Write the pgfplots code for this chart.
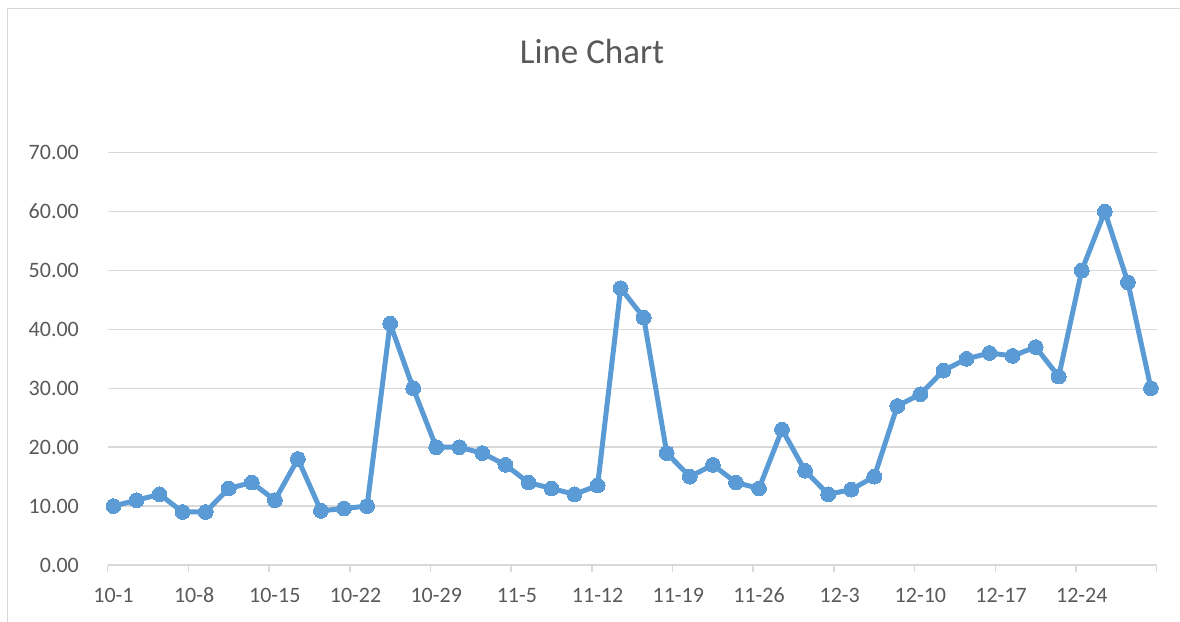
\documentclass[border=0pt]{standalone}
\usepackage{fontspec}
\setmainfont{Carlito}
\usepackage{pgfplots}
\pgfplotsset{compat=1.18}
\definecolor{lineblue}{HTML}{5B9BD5}
\definecolor{gridgray}{HTML}{D9D9D9}
\definecolor{textgray}{HTML}{595959}
\begin{document}
\begin{tikzpicture}
\useasboundingbox (0,0) rectangle (590pt,311pt);
\draw[gridgray, line width=0.9pt] (3.75pt,0) -- (3.75pt,306.75pt) -- (590pt,306.75pt);
\node[anchor=base, text=textgray, font=\fontsize{17.5pt}{20pt}\selectfont] at (296pt,279.35pt) {Line Chart};
\begin{axis}[
  at={(53.85pt,28.5pt)}, anchor=south west,
  scale only axis, width=524.5pt, height=206.15pt,
  xmin=0, xmax=91, ymin=0, ymax=70,
  clip=false,
  axis line style={draw=none},
  ymajorgrids, grid style={gridgray, line width=0.75pt},
  ytick={0,10,...,70},
  ytick style={draw=none},
  yticklabel style={text=textgray, font=\fontsize{11pt}{13pt}\selectfont, inner sep=0pt, xshift=-14.2pt},
  /pgf/number format/assume math mode=true,
  yticklabel={\pgfmathprintnumber[fixed, fixed zerofill, precision=2]{\tick}},
  xtick={0.5,7.5,14.5,21.5,28.5,35.5,42.5,49.5,56.5,63.5,70.5,77.5,84.5},
  xticklabels={10-1,10-8,10-15,10-22,10-29,11-5,11-12,11-19,11-26,12-3,12-10,12-17,12-24},
  major tick length=0pt,
  minor xtick={0,7,14,21,28,35,42,49,56,63,70,77,84,91},
  minor tick length=3.5pt,
  xtick pos=lower, ytick pos=left,
  tick align=outside,
  minor tick style={gridgray, line width=0.75pt},
  xticklabel style={text=textgray, font=\fontsize{11pt}{13pt}\selectfont, anchor=base, yshift=-18.85pt},
]
\addplot[lineblue, line width=2.5pt, line join=round, mark=*, mark size=3.7pt, mark options={fill=lineblue, draw=lineblue, line width=0pt}] coordinates {
(0.5,10) (2.5,11) (4.5,12) (6.5,9) (8.5,9) (10.5,13) (12.5,14) (14.5,11) (16.5,18) (18.5,9.2)
(20.5,9.6) (22.5,10) (24.5,41) (26.5,30) (28.5,20) (30.5,20) (32.5,19) (34.5,17) (36.5,14) (38.5,13)
(40.5,12) (42.5,13.5) (44.5,47) (46.5,42) (48.5,19) (50.5,15) (52.5,17) (54.5,14) (56.5,13) (58.5,23)
(60.5,16) (62.5,12) (64.5,12.8) (66.5,15) (68.5,27) (70.5,29) (72.5,33) (74.5,35) (76.5,36) (78.5,35.5)
(80.5,37) (82.5,32) (84.5,50) (86.5,60) (88.5,48) (90.5,30)
};
\end{axis}
\end{tikzpicture}
\end{document}
